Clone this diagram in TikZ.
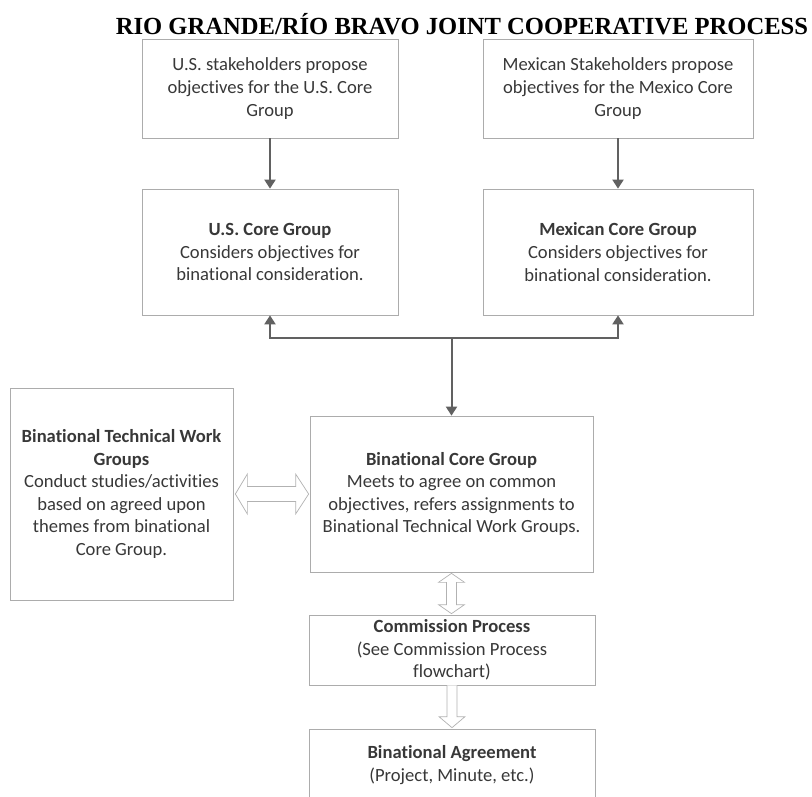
\documentclass[tikz,border=0pt]{standalone}
\usepackage{fontspec}
\setmainfont{Carlito}[Ligatures=NoCommon]
\newfontfamily\titlefont{Liberation Serif}
\usetikzlibrary{arrows.meta,calc}
\begin{document}
\begin{tikzpicture}[x=1pt,y=-1pt,
  box/.style={draw=gray!65, line width=0.7pt, rectangle, align=center,
    font=\fontsize{18.6}{22.6}\selectfont, text=black!78, inner sep=0pt},
  arr/.style={draw=black!62, line width=2pt, -{Triangle[width=11pt,length=9pt]}},
  hollow/.style={draw=gray!60, line width=0.7pt, fill=white, line join=miter}]
\clip (0,0) rectangle (812,796);
\useasboundingbox (0,0) rectangle (812,796);

\node[font=\titlefont\bfseries\fontsize{24.6}{29}\selectfont, inner sep=0pt] (title) at (462,24)
  {RIO GRANDE/RÍO BRAVO JOINT COOPERATIVE PROCESS};

\node[box, minimum width=256pt, minimum height=99pt] (b1) at (270,88.5)
  {U.S. stakeholders propose\\objectives for the U.S. Core\\Group};
\node[box, minimum width=270pt, minimum height=99pt] (b2) at (618,88.5)
  {Mexican Stakeholders propose\\objectives for the Mexico Core\\Group};
\node[box, minimum width=256pt, minimum height=126pt] (b3) at (270,252)
  {\textbf{U.S. Core Group}\\Considers objectives for\\binational consideration.};
\node[box, minimum width=270pt, minimum height=126pt] (b4) at (618,252)
  {\textbf{Mexican Core Group}\\Considers objectives for\\binational consideration.};
\node[box, minimum width=283pt, minimum height=156pt] (b5) at (451.5,494)
  {\textbf{Binational Core Group}\\Meets to agree on common\\objectives, refers assignments to\\Binational Technical Work Groups.};
\node[box, minimum width=223pt, minimum height=212pt] (b6) at (121.5,494)
  {\textbf{Binational Technical Work}\\\textbf{Groups}\\Conduct studies/activities\\based on agreed upon\\themes from binational\\Core Group.};
\node[box, minimum width=286pt, minimum height=70pt] (b7) at (452,650)
  {\textbf{Commission Process}\\(See Commission Process\\flowchart)};
\node[box, minimum width=286pt, minimum height=72pt] (b8) at (452,765)
  {\textbf{Binational Agreement}\\(Project, Minute, etc.)};

\draw[arr] (b1.south) -- (b3.north);
\draw[arr] (b2.south) -- (b4.north);
\coordinate (fork) at ($(b5.north)+(0,-78)$);
\draw[arr] (fork) -| (b3.south);
\draw[arr] (fork) -| (b4.south);
\draw[arr] (fork) -- (b5.north);

\draw[hollow] let \p1=(b6.east), \p2=(b5.west) in
  (\x1+2pt,\y1) -- (\x1+14pt,\y1+20pt) -- (\x1+14pt,\y1+7.5pt) -- (\x2-14pt,\y1+7.5pt)
  -- (\x2-14pt,\y1+20pt) -- (\x2-1pt,\y1) -- (\x2-14pt,\y1-20pt) -- (\x2-14pt,\y1-7.5pt)
  -- (\x1+14pt,\y1-7.5pt) -- (\x1+14pt,\y1-20pt) -- cycle;

\draw[hollow] let \p1=(b5.south), \p2=(b7.north) in
  (\x1,\y1-1pt) -- (\x1+13pt,\y1-10pt) -- (\x1+5pt,\y1-10pt) -- (\x1+5pt,\y2+10pt)
  -- (\x1+13pt,\y2+10pt) -- (\x1,\y2+1pt) -- (\x1-13pt,\y2+10pt) -- (\x1-5pt,\y2+10pt)
  -- (\x1-5pt,\y1-10pt) -- (\x1-13pt,\y1-10pt) -- cycle;

\draw[hollow] let \p1=(b7.south), \p2=(b8.north) in
  (\x1-5pt,\y1) -- (\x1-5pt,\y2+12pt) -- (\x1-13pt,\y2+12pt) -- (\x1,\y2+1pt)
  -- (\x1+13pt,\y2+12pt) -- (\x1+5pt,\y2+12pt) -- (\x1+5pt,\y1);
\end{tikzpicture}
\end{document}
